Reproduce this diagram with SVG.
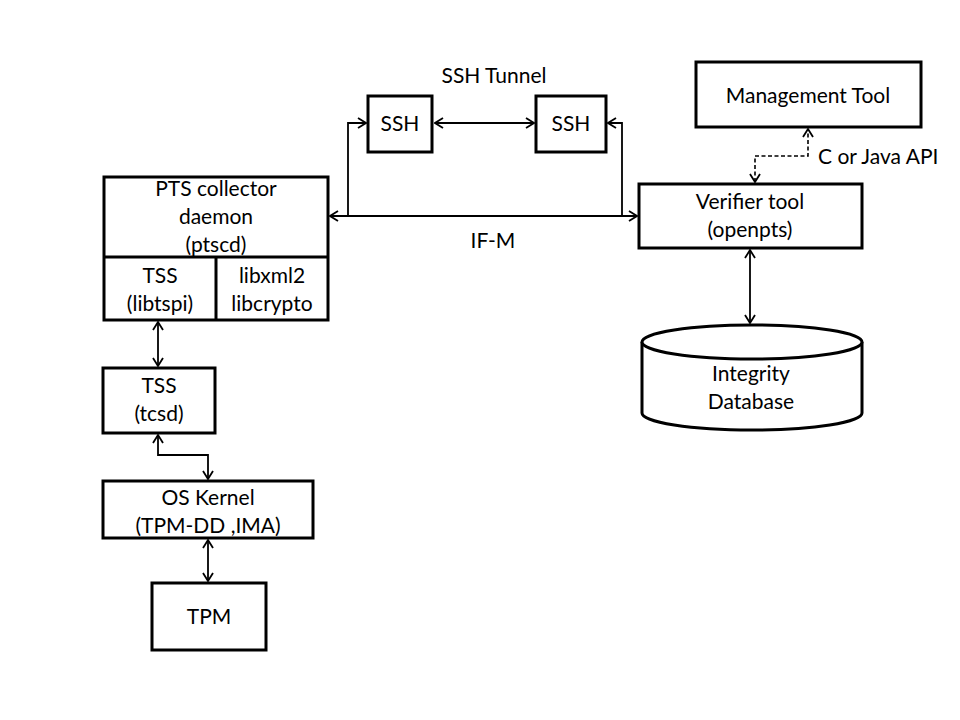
<svg xmlns="http://www.w3.org/2000/svg" width="960" height="720" viewBox="0 0 960 720">
  <style>
    .box { fill: #fff; stroke: #000; stroke-width: 3; }
    .div { fill: none; stroke: #000; stroke-width: 3; }
    .lbl { font-family: Lato, "Liberation Sans", sans-serif; font-size: 21px; fill: #000; text-anchor: middle; }
    .link { fill: none; stroke: #000; stroke-width: 1.8; }
    .dash { fill: none; stroke: #000; stroke-width: 1.6; stroke-dasharray: 4 2.5; }
  </style>
  <defs>
    <marker id="arrow" viewBox="0 0 10 12" refX="9" refY="6" markerWidth="10" markerHeight="12" markerUnits="userSpaceOnUse" orient="auto-start-reverse">
      <path d="M1,1 L9,6 L1,11" fill="none" stroke="#000" stroke-width="1.8"/>
    </marker>
  </defs>

  <rect width="960" height="720" fill="#fff"/>

  <!-- connectors -->
  <g id="connectors">
    <!-- IF-M channel between collector and verifier -->
    <path class="link" d="M330,216 L637,216" marker-start="url(#arrow)" marker-end="url(#arrow)"/>
    <!-- SSH tunnel -->
    <path class="link" d="M435,123 L534,123" marker-start="url(#arrow)" marker-end="url(#arrow)"/>
    <path class="link" d="M348,216 L348,123 L366,123" marker-end="url(#arrow)"/>
    <path class="link" d="M622,216 L622,123 L608,123" marker-end="url(#arrow)"/>
    <!-- management API -->
    <path class="dash" d="M755,182 L755,156 L808,156 L808,129" marker-start="url(#arrow)" marker-end="url(#arrow)"/>
    <!-- verifier to database -->
    <path class="link" d="M750,250 L750,323" marker-start="url(#arrow)" marker-end="url(#arrow)"/>
    <!-- local stack -->
    <path class="link" d="M158,322 L158,366" marker-start="url(#arrow)" marker-end="url(#arrow)"/>
    <path class="link" d="M158,435 L158,455 L208,455 L208,479" marker-start="url(#arrow)" marker-end="url(#arrow)"/>
    <path class="link" d="M208,540 L208,581" marker-start="url(#arrow)" marker-end="url(#arrow)"/>
  </g>

  <text class="lbl" x="494" y="83">SSH Tunnel</text>
  <text class="lbl" x="493" y="248">IF-M</text>
  <text class="lbl" x="818" y="164" style="text-anchor:start">C or Java API</text>

  <g id="ssh-left">
    <rect class="box" x="368" y="96" width="64" height="56"/>
    <text class="lbl" x="400" y="131">SSH</text>
  </g>
  <g id="ssh-right">
    <rect class="box" x="536" y="96" width="70" height="56"/>
    <text class="lbl" x="571" y="131">SSH</text>
  </g>

  <g id="management-tool">
    <rect class="box" x="696" y="62" width="225" height="65"/>
    <text class="lbl" x="808" y="103">Management Tool</text>
  </g>

  <g id="verifier">
    <rect class="box" x="639" y="184" width="223" height="64"/>
    <text class="lbl" x="750" y="209">Verifier tool</text>
    <text class="lbl" x="750" y="237">(openpts)</text>
  </g>

  <g id="integrity-db">
    <path class="box" d="M642,342 L642,413 A110,17 0 0 0 862,413 L862,342"/>
    <ellipse class="box" cx="752" cy="342" rx="110" ry="17"/>
    <text class="lbl" x="751" y="381">Integrity</text>
    <text class="lbl" x="751" y="409">Database</text>
  </g>

  <g id="pts-collector">
    <rect class="box" x="104" y="177" width="224" height="143"/>
    <path class="div" d="M104,257 L328,257 M216,257 L216,320"/>
    <text class="lbl" x="216" y="196">PTS collector</text>
    <text class="lbl" x="216" y="224">daemon</text>
    <text class="lbl" x="216" y="252">(ptscd)</text>
    <text class="lbl" x="160" y="283">TSS</text>
    <text class="lbl" x="160" y="311">(libtspi)</text>
    <text class="lbl" x="272" y="283">libxml2</text>
    <text class="lbl" x="272" y="311">libcrypto</text>
  </g>

  <g id="tss-tcsd">
    <rect class="box" x="103" y="368" width="112" height="65"/>
    <text class="lbl" x="159" y="393">TSS</text>
    <text class="lbl" x="159" y="421">(tcsd)</text>
  </g>

  <g id="os-kernel">
    <rect class="box" x="103" y="481" width="210" height="57"/>
    <text class="lbl" x="208" y="505">OS Kernel</text>
    <text class="lbl" x="208" y="533">(TPM-DD ,IMA)</text>
  </g>

  <g id="tpm">
    <rect class="box" x="152" y="583" width="114" height="67"/>
    <text class="lbl" x="209" y="624">TPM</text>
  </g>
</svg>
